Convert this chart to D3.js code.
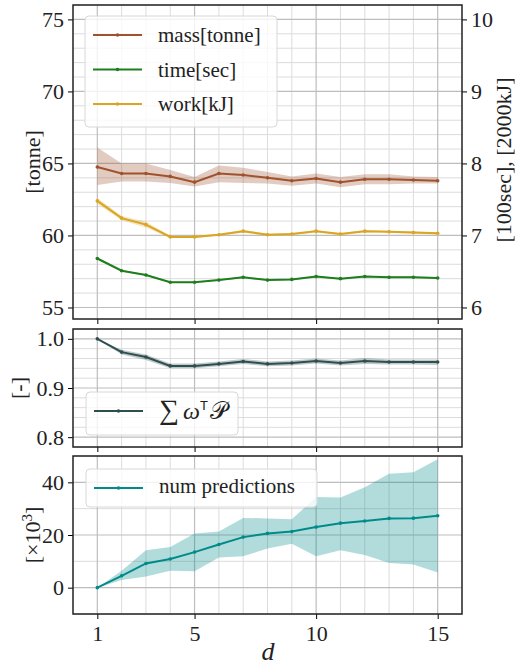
<!DOCTYPE html>
<html>
<head>
<meta charset="utf-8">
<script src="https://cdn.jsdelivr.net/npm/d3@7"></script>
</head>
<body style="margin:0;background:#fff">
<svg id="chart" width="515" height="665" style="display:block"></svg>
<script>
// data
var dVals = [1, 2, 3, 4, 5, 6, 7, 8, 9, 10, 11, 12, 13, 14, 15];

var massMean = [64.75, 64.3, 64.3, 64.1, 63.7, 64.3, 64.2, 64.0, 63.8, 63.95, 63.7, 63.9, 63.9, 63.85, 63.8];
var massLo   = [63.5, 63.75, 63.75, 63.65, 63.4, 63.7, 63.65, 63.6, 63.45, 63.6, 63.35, 63.55, 63.55, 63.6, 63.6];
var massHi   = [66.1, 65.0, 65.0, 64.55, 64.05, 64.85, 64.7, 64.4, 64.1, 64.3, 64.05, 64.25, 64.25, 64.1, 64.05];

var timeMean = [6.68, 6.51, 6.45, 6.35, 6.35, 6.38, 6.42, 6.38, 6.39, 6.43, 6.40, 6.43, 6.42, 6.42, 6.41];
var timeLo   = [6.665, 6.50, 6.44, 6.34, 6.34, 6.37, 6.41, 6.37, 6.38, 6.42, 6.39, 6.42, 6.41, 6.41, 6.40];
var timeHi   = [6.695, 6.52, 6.46, 6.36, 6.36, 6.39, 6.43, 6.39, 6.40, 6.44, 6.41, 6.44, 6.43, 6.43, 6.42];

var workMean = [7.48, 7.24, 7.15, 6.98, 6.98, 7.01, 7.06, 7.01, 7.02, 7.06, 7.02, 7.06, 7.05, 7.04, 7.03];
var workLo   = [7.44, 7.21, 7.11, 6.965, 6.965, 6.995, 7.04, 6.995, 7.005, 7.045, 7.005, 7.045, 7.035, 7.025, 7.015];
var workHi   = [7.52, 7.27, 7.19, 6.995, 6.995, 7.025, 7.08, 7.025, 7.035, 7.075, 7.035, 7.075, 7.065, 7.055, 7.045];

var wpMean = [1.0, 0.973, 0.963, 0.945, 0.945, 0.949, 0.954, 0.949, 0.951, 0.955, 0.951, 0.955, 0.953, 0.953, 0.953];
var wpLo   = [1.0, 0.968, 0.957, 0.940, 0.940, 0.944, 0.949, 0.944, 0.946, 0.950, 0.946, 0.949, 0.948, 0.948, 0.947];
var wpHi   = [1.0, 0.978, 0.968, 0.950, 0.950, 0.954, 0.959, 0.954, 0.956, 0.960, 0.956, 0.961, 0.958, 0.958, 0.958];

var predMean = [0, 4.5, 9.2, 10.9, 13.5, 16.4, 19.2, 20.6, 21.3, 23.0, 24.5, 25.3, 26.3, 26.4, 27.3];
var predLo   = [0, 2.9, 4.2, 6.4, 6.2, 11.5, 11.9, 14.9, 16.7, 11.9, 14.2, 12.4, 9.4, 8.8, 5.8];
var predHi   = [0, 6.4, 14.2, 15.4, 20.6, 21.3, 26.5, 26.3, 26.0, 34.4, 34.2, 38.1, 43.3, 43.8, 48.8];

var xMajor = [1, 5, 10, 15];

var left = 73, right = 462;
var serif = "'Times New Roman', 'Liberation Serif', serif";

var svg = d3.select("#chart");

var x = d3.scaleLinear().domain([0, 16]).range([left, right]);

// set a full font shorthand on a text element
function font(sel, size, italic) {
  return sel.style("font", (italic ? "italic " : "") + size + "px " + serif);
}

// draw one panel frame with grid and ticks
function makePanel(top, bottom, domain, majors, minors, showX) {
  var y = d3.scaleLinear().domain(domain).range([bottom, top]);
  var g = svg.append("g");

  // minor grid
  g.selectAll(".vminor").data(d3.range(1, 16).filter(v => xMajor.indexOf(v) < 0)).enter()
    .append("line")
    .attr("x1", d => x(d)).attr("x2", d => x(d))
    .attr("y1", top).attr("y2", bottom)
    .attr("stroke", "#dcdcdc").attr("stroke-width", 1);
  g.selectAll(".hminor").data(minors).enter()
    .append("line")
    .attr("x1", left).attr("x2", right)
    .attr("y1", d => y(d)).attr("y2", d => y(d))
    .attr("stroke", "#dcdcdc").attr("stroke-width", 1);
  // major grid
  g.selectAll(".vmajor").data(xMajor).enter()
    .append("line")
    .attr("x1", d => x(d)).attr("x2", d => x(d))
    .attr("y1", top).attr("y2", bottom)
    .attr("stroke", "#bdbdbd").attr("stroke-width", 1.2);
  g.selectAll(".hmajor").data(majors).enter()
    .append("line")
    .attr("x1", left).attr("x2", right)
    .attr("y1", d => y(d)).attr("y2", d => y(d))
    .attr("stroke", "#bdbdbd").attr("stroke-width", 1.2);

  // left axis
  var la = svg.append("g").attr("transform", `translate(${left},0)`);
  la.call(d3.axisLeft(y).tickValues(minors).tickSize(3).tickFormat(""));
  la.call(d3.axisLeft(y).tickValues(majors).tickSize(5).tickPadding(4)
    .tickFormat(d => domain[1] < 2 ? d3.format(".1f")(d) : d));
  la.select(".domain").remove();
  la.attr("font-family", null).attr("font-size", null);
  font(la.selectAll("text"), 22);

  // bottom axis
  var ba = svg.append("g").attr("transform", `translate(0,${bottom})`);
  ba.call(d3.axisBottom(x).tickValues(d3.range(1, 16)).tickSize(3).tickFormat(""));
  ba.call(d3.axisBottom(x).tickValues(xMajor).tickSize(5).tickPadding(6)
    .tickFormat(showX ? d => d : ""));
  ba.select(".domain").remove();
  ba.attr("font-family", null).attr("font-size", null);
  font(ba.selectAll("text"), 22);

  return { y: y, g: g, top: top, bottom: bottom };
}

function frame(p) {
  svg.append("rect")
    .attr("x", left).attr("y", p.top)
    .attr("width", right - left).attr("height", p.bottom - p.top)
    .attr("fill", "none").attr("stroke", "#222").attr("stroke-width", 1.5);
}

function drawSeries(p, y, mean, lo, hi, color) {
  var area = d3.area()
    .x((d, i) => x(dVals[i]))
    .y0((d, i) => y(lo[i]))
    .y1((d, i) => y(hi[i]));
  p.g.append("path").datum(mean)
    .attr("d", area)
    .attr("fill", color).attr("fill-opacity", 0.3);
  var line = d3.line()
    .x((d, i) => x(dVals[i]))
    .y(d => y(d));
  p.g.append("path").datum(mean)
    .attr("d", line)
    .attr("fill", "none").attr("stroke", color).attr("stroke-width", 2);
  p.g.selectAll(null).data(mean).enter()
    .append("circle")
    .attr("cx", (d, i) => x(dVals[i]))
    .attr("cy", d => y(d))
    .attr("r", 1.8)
    .attr("fill", color);
}

function legend(x0, y0, w, h, items) {
  var lg = svg.append("g");
  lg.append("rect")
    .attr("x", x0).attr("y", y0).attr("width", w).attr("height", h)
    .attr("rx", 4)
    .attr("fill", "#fff").attr("fill-opacity", 0.8)
    .attr("stroke", "#d8d8d8");
  items.forEach(function(it, i) {
    var yy = y0 + 19 + i * 34.5;
    lg.append("line")
      .attr("x1", x0 + 8).attr("x2", x0 + 57)
      .attr("y1", yy).attr("y2", yy)
      .attr("stroke", it.color).attr("stroke-width", 2);
    lg.append("circle")
      .attr("cx", x0 + 32.5).attr("cy", yy).attr("r", 1.8).attr("fill", it.color);
    it.draw(font(lg.append("text").attr("x", x0 + 73).attr("y", yy + 7), 21));
  });
}

// ---- top panel ----
var p1 = makePanel(5, 319, [54.2, 76], [55, 60, 65, 70, 75],
  d3.range(55, 77).filter(v => v % 5 !== 0), false);
var yRight = d3.scaleLinear().domain([(54.2 - 25) / 5, (76 - 25) / 5]).range([319, 5]);

drawSeries(p1, p1.y, massMean, massLo, massHi, "#a0522d");
drawSeries(p1, yRight, workMean, workLo, workHi, "#daa520");
drawSeries(p1, yRight, timeMean, timeLo, timeHi, "#1e7e1e");

var ra = svg.append("g").attr("transform", `translate(${right},0)`);
ra.call(d3.axisRight(yRight).tickValues([6, 7, 8, 9, 10]).tickSize(5).tickPadding(4)
  .tickFormat(d3.format("d")));
ra.select(".domain").remove();
ra.attr("font-family", null).attr("font-size", null);
font(ra.selectAll("text"), 22);
frame(p1);

legend(85, 16, 192, 111, [
  { color: "#a0522d", draw: t => t.text("mass[tonne]") },
  { color: "#1e7e1e", draw: t => t.text("time[sec]") },
  { color: "#daa520", draw: t => t.text("work[kJ]") }
]);

font(svg.append("text"), 22)
  .attr("transform", "translate(40,162) rotate(-90)")
  .attr("text-anchor", "middle")
  .text("[tonne]");
font(svg.append("text"), 22)
  .attr("transform", "translate(511,160) rotate(-90)")
  .attr("text-anchor", "middle")
  .text("[100sec], [2000kJ]");

// ---- middle panel ----
var p2 = makePanel(329, 447, [0.78, 1.02], [0.8, 0.9, 1.0],
  [0.78, 0.82, 0.84, 0.86, 0.88, 0.92, 0.94, 0.96, 0.98, 1.02], false);
drawSeries(p2, p2.y, wpMean, wpLo, wpHi, "#2f4f4f");
frame(p2);

legend(86, 392, 152, 43, [
  { color: "#2f4f4f", draw: function(t) {
      t.attr("y", 392 + 19 + 8);
      font(t.append("tspan"), 28).text("\u2211");
      font(t.append("tspan"), 24, true).attr("dx", 4).text("\u03c9");
      t.append("tspan").attr("dy", -9).style("font", "13px 'Liberation Sans', sans-serif").text("T");
      font(t.append("tspan"), 24).attr("dy", 9).attr("dx", 2).text("\ud835\udcab");
    } }
]);

font(svg.append("text"), 22)
  .attr("transform", "translate(26,388) rotate(-90)")
  .attr("text-anchor", "middle")
  .text("[-]");

// ---- bottom panel ----
var p3 = makePanel(456, 614, [-10, 50], [0, 20, 40], [-10, 10, 30, 50], true);
drawSeries(p3, p3.y, predMean, predLo, predHi, "#008b8b");
frame(p3);

legend(86, 469, 231, 38, [
  { color: "#008b8b", draw: t => t.attr("y", 469 + 17 + 7).text("num predictions") }
]);

var yl = font(svg.append("text"), 22)
  .attr("transform", "translate(40,535) rotate(-90)")
  .attr("text-anchor", "middle");
yl.append("tspan").text("[\u00d710");
font(yl.append("tspan"), 15).attr("dy", -8).text("3");
yl.append("tspan").attr("dy", 8).text("]");

font(svg.append("text"), 26, true)
  .attr("x", 268).attr("y", 660)
  .attr("text-anchor", "middle")
  .text("d");

svg.selectAll("text").attr("fill", "#222");
</script>
</body>
</html>
